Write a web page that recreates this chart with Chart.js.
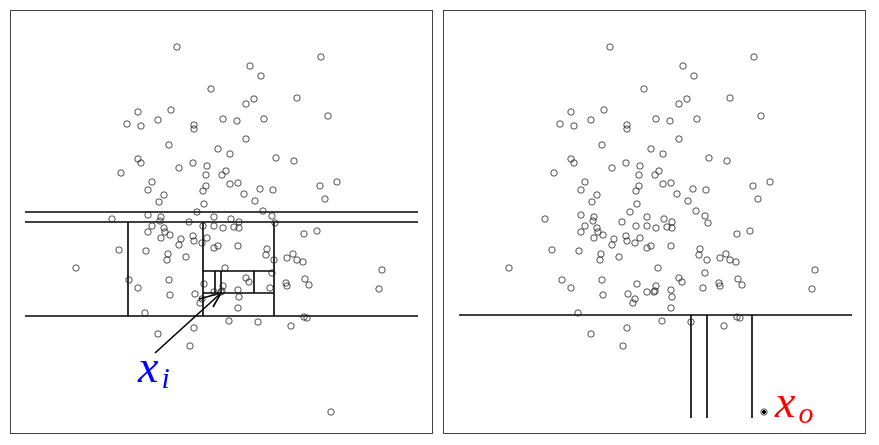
<!DOCTYPE html>
<html>
<head>
<meta charset="utf-8">
<script src="https://cdn.jsdelivr.net/npm/chart.js@4.4.1/dist/chart.umd.min.js"></script>
<style>
  body { margin: 0; background: #fff; width: 879px; height: 445px; position: relative; overflow: hidden; }
  .panel { position: absolute; top: 10px; height: 424px; width: 423px; outline: 1px solid #444; outline-offset: -1px; }
  #izq { left: 10px; }
  #der { left: 443px; }
  canvas { display: block; }
</style>
</head>
<body>
<div class="panel" id="izq"><canvas id="chartIzq"></canvas></div>
<div class="panel" id="der"><canvas id="chartDer"></canvas></div>
<script>
// Datos de los puntos (mismos en los dos paneles)
const puntosX = [167,201,128,161,213,117,131,148,184,184,159,311,240,251,244,287,236,318,227,254,
  236,208,220,128,131,183,169,197,216,212,196,111,220,228,142,138,196,193,154,149,
  194,187,102,138,151,150,204,221,179,142,154,138,155,160,193,204,213,151,171,183,
  197,266,284,234,250,263,310,327,245,315,253,262,265,229,224,229,294,307,184,169,
  192,204,208,109,136,158,157,176,66,215,119,128,159,194,213,160,185,204,211,212,
  192,190,135,219,184,148,180,228,257,256,264,283,277,287,293,262,372,236,239,295,
  299,276,277,260,369,228,229,228,248,281,294,297,321];
const puntosY = [387,345,322,324,315,310,308,314,309,305,289,377,368,358,335,336,330,318,313,315,
  295,285,280,275,271,271,266,268,263,259,259,261,250,251,252,244,248,243,239,232,
  230,222,215,219,217,213,217,215,212,208,206,202,202,199,208,208,206,196,195,198,
  196,276,273,240,245,244,248,252,233,235,223,218,211,212,207,206,200,203,193,189,
  191,186,188,184,183,180,174,177,166,166,154,146,154,150,148,139,140,142,142,143,
  135,131,121,113,106,100,88,188,185,179,174,180,176,174,172,161,164,156,152,155,
  149,151,148,146,145,144,137,126,112,108,117,116,22];

// Punto anomalo x_o y punto normal x_i
const anomalo = [321, 22];
const normal = [211, 142];

// Cortes del arbol (segmentos x1, y1, x2, y2)
const cortesIzq = [
  [15,222,408,222], [15,212,408,212], [15,118,408,118],
  [118,212,118,118], [193,212,193,118], [264,212,264,118],
  [193,163,264,163], [193,141,264,141],
  [205,163,205,141], [211,163,211,141], [244,163,244,141]
];
const cortesDer = [
  [16,119,409,119],
  [248,119,248,16], [264,119,264,16], [309,119,309,16]
];
// Flecha que senala a x_i
const flecha = [[145,81,211,141], [211,141,189,135], [211,141,203,127]];

function segmentos(lista, ancho) {
  return lista.map((s) => ({
    type: "line",
    data: [{ x: s[0], y: s[1] }, { x: s[2], y: s[3] }],
    borderColor: "#000",
    borderWidth: ancho,
    pointRadius: 0,
    showLine: true,
    clip: false,
  }));
}

function datosPuntos() {
  var data = [];
  for (var i = 0; i < puntosX.length; i++) {
    data.push({ x: puntosX[i], y: puntosY[i] });
  }
  return data;
}

// Plugin para escribir las etiquetas x_i / x_o
function etiqueta(base, sub, color, pos) {
  return {
    id: "etiqueta",
    afterDatasetsDraw(chart) {
      const ctx = chart.ctx;
      const px = chart.scales.x.getPixelForValue(pos[0]);
      const py = chart.scales.y.getPixelForValue(pos[1]);
      ctx.save();
      ctx.fillStyle = color;
      ctx.textBaseline = "alphabetic";
      ctx.font = "italic 46px 'Liberation Serif', serif";
      ctx.fillText(base, px, py);
      const w = ctx.measureText(base).width;
      ctx.font = "italic 30px 'Liberation Serif', serif";
      ctx.fillText(sub, px + w + 3, py + 6);
      ctx.restore();
    },
  };
}

function crearChart(id, extra, plugin) {
  const datasets = [
    {
      type: "scatter",
      data: datosPuntos(),
      pointStyle: "circle",
      pointRadius: 3.2,
      pointBorderWidth: 0.8,
      pointBorderColor: "#222",
      pointBackgroundColor: "rgba(255,255,255,0)",
      clip: false,
    },
  ].concat(extra);
  return new Chart(document.getElementById(id), {
    type: "scatter",
    data: { datasets: datasets },
    options: {
      responsive: true,
      maintainAspectRatio: false,
      animation: false,
      layout: { padding: 0, autoPadding: false },
      plugins: { legend: { display: false }, tooltip: { enabled: false } },
      scales: {
        x: { type: "linear", min: 0, max: 423, display: false },
        y: { type: "linear", min: 0, max: 424, display: false },
      },
    },
    plugins: [plugin],
  });
}

// Panel izquierdo: muchos cortes para aislar x_i
crearChart(
  "chartIzq",
  segmentos(cortesIzq, 1.6).concat(segmentos(flecha, 1.6)),
  etiqueta("x", "i", "#0000ff", [128, 52])
);

// Panel derecho: pocos cortes para aislar x_o
crearChart(
  "chartDer",
  segmentos(cortesDer, 1.6).concat([
    {
      type: "scatter",
      data: [{ x: anomalo[0], y: anomalo[1] }],
      pointRadius: 1.6,
      pointBackgroundColor: "#000",
      pointBorderColor: "#000",
      clip: false,
    },
  ]),
  etiqueta("x", "o", "#ff0000", [332, 17])
);
</script>
</body>
</html>
